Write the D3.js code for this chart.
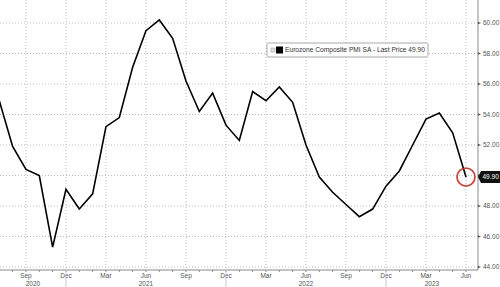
<!DOCTYPE html>
<html>
  <head>
    <meta charset="utf-8" />
    <script src="https://d3js.org/d3.v7.min.js"></script>
    <style>
      body { margin: 0; background: #fff; }
      svg { display: block; font-family: "Liberation Sans", Arial, sans-serif; }
    </style>
  </head>
  <body>
    <div id="chart"></div>
    <script>
      // Eurozone Composite PMI SA, monthly Jul 2020 .. Jun 2023
      var startYear = 2020, startMonth = 6; // July (0-based)
      var values = [
        54.9, 51.9, 50.4, 50.0, 45.3, 49.1,
        47.8, 48.8, 53.2, 53.8, 57.1, 59.5, 60.2, 59.0, 56.2, 54.2, 55.4, 53.3,
        52.3, 55.5, 54.9, 55.8, 54.8, 52.0, 49.9, 48.9, 48.1, 47.3, 47.8, 49.3,
        50.3, 52.0, 53.7, 54.1, 52.8, 49.9
      ];
      var yTicks = [44, 46, 48, 50, 52, 54, 56, 58, 60];
      var monthNames = ["Jan", "Feb", "Mar", "Apr", "May", "Jun", "Jul", "Aug", "Sep", "Oct", "Nov", "Dec"];
      var legendLabel = "Eurozone Composite PMI SA - Last Price 49.90";
      var lastLabel = "49.90";

      var width = 500, height = 287;
      var axisX = 478, axisY = 270;

      var data = values.map(function (v, i) {
        var m = startMonth + i;
        return { i: i, year: startYear + Math.floor(m / 12), month: m % 12, value: v };
      });

      var x = d3.scaleLinear().domain([0, values.length - 1]).range([-0.7, 466]);
      var y = d3.scaleLinear().domain([44, 60]).range([267, 23]);

      var svg = d3.select("#chart").append("svg")
        .attr("width", width)
        .attr("height", height);

      // quarter months: Mar, Jun, Sep, Dec
      var quarters = data.filter(function (d) { return d.month % 3 === 2; });

      // grid
      svg.append("g").selectAll("line").data(yTicks).enter().append("line")
        .attr("x1", 0).attr("x2", axisX)
        .attr("y1", function (d) { return y(d); })
        .attr("y2", function (d) { return y(d); })
        .attr("stroke", "#bdbdbd")
        .attr("stroke-dasharray", "1,2");

      svg.append("g").selectAll("line").data(quarters).enter().append("line")
        .attr("x1", function (d) { return x(d.i); })
        .attr("x2", function (d) { return x(d.i); })
        .attr("y1", 0).attr("y2", axisY)
        .attr("stroke", "#bdbdbd")
        .attr("stroke-dasharray", "1,2");

      // bottom axis
      svg.append("line")
        .attr("x1", 0).attr("x2", axisX)
        .attr("y1", axisY).attr("y2", axisY)
        .attr("stroke", "#8a8a8a");

      svg.append("g").selectAll("line").data(data).enter().append("line")
        .attr("x1", function (d) { return x(d.i); })
        .attr("x2", function (d) { return x(d.i); })
        .attr("y1", axisY).attr("y2", axisY + 2)
        .attr("stroke", "#8a8a8a");

      svg.append("g").selectAll("text").data(quarters).enter().append("text")
        .attr("x", function (d) { return x(d.i); })
        .attr("y", axisY + 8)
        .attr("text-anchor", "middle")
        .attr("font-size", 6.5)
        .attr("fill", "#555")
        .text(function (d) { return monthNames[d.month]; });

      // year separators at December
      var decs = data.filter(function (d) { return d.month === 11; });
      svg.append("g").selectAll("line").data(decs).enter().append("line")
        .attr("x1", function (d) { return x(d.i); })
        .attr("x2", function (d) { return x(d.i); })
        .attr("y1", axisY).attr("y2", height)
        .attr("stroke", "#c8c8c8");

      var seps = [0].concat(decs.map(function (d) { return x(d.i); })).concat([axisX]);
      var years = d3.range(startYear, startYear + seps.length - 1);
      svg.append("g").selectAll("text").data(years).enter().append("text")
        .attr("x", function (d, k) { return (seps[k] + seps[k + 1]) / 2; })
        .attr("y", axisY + 16)
        .attr("text-anchor", "middle")
        .attr("font-size", 6.5)
        .attr("fill", "#555")
        .text(function (d) { return d; });

      // right axis
      svg.append("line")
        .attr("x1", axisX).attr("x2", axisX)
        .attr("y1", 0).attr("y2", axisY)
        .attr("stroke", "#8a8a8a");

      var ry = svg.append("g").selectAll("g").data(yTicks).enter().append("g")
        .attr("transform", function (d) { return "translate(" + axisX + "," + y(d) + ")"; });
      ry.append("path")
        .attr("d", "M0,-1.2L3,0L0,1.2Z")
        .attr("fill", "#555");
      ry.append("text")
        .attr("x", 5)
        .attr("dy", "0.35em")
        .attr("font-size", 6.5)
        .attr("fill", "#555")
        .text(function (d) { return d.toFixed(2); });

      // series line
      var line = d3.line()
        .x(function (d) { return x(d.i); })
        .y(function (d) { return y(d.value); });

      svg.append("path")
        .datum(data)
        .attr("fill", "none")
        .attr("stroke", "#000")
        .attr("stroke-width", 1.6)
        .attr("stroke-linejoin", "miter")
        .attr("d", line);

      // highlight last point
      var last = data[data.length - 1];
      svg.append("circle")
        .attr("cx", x(last.i))
        .attr("cy", y(last.value))
        .attr("r", 9)
        .attr("fill", "none")
        .attr("stroke", "#c0392b")
        .attr("stroke-width", 1.8)
        .attr("opacity", 0.9);

      // last price tag
      var ly = y(last.value);
      svg.append("path")
        .attr("d", "M" + axisX + "," + ly + "L" + (axisX + 3) + "," + (ly - 6) +
          "L" + width + "," + (ly - 6) + "L" + width + "," + (ly + 6) +
          "L" + (axisX + 3) + "," + (ly + 6) + "Z")
        .attr("fill", "#111");
      svg.append("text")
        .attr("x", axisX + 4.5)
        .attr("y", ly)
        .attr("dy", "0.35em")
        .attr("font-size", 6.5)
        .attr("fill", "#fff")
        .text(lastLabel);

      // legend
      var lg = svg.append("g").attr("transform", "translate(267,43)");
      lg.append("rect")
        .attr("width", 161).attr("height", 14)
        .attr("fill", "#fff")
        .attr("stroke", "#aaa")
        .attr("rx", 1.5);
      lg.append("rect")
        .attr("x", 4).attr("y", 5).attr("width", 4).attr("height", 4)
        .attr("fill", "#ddd").attr("stroke", "#999").attr("stroke-width", 0.5);
      lg.append("rect")
        .attr("x", 9).attr("y", 3.5).attr("width", 7).attr("height", 7)
        .attr("fill", "#000");
      lg.append("text")
        .attr("x", 18)
        .attr("y", 7)
        .attr("dy", "0.35em")
        .attr("font-size", 6.8)
        .attr("fill", "#333")
        .attr("textLength", 140)
        .attr("lengthAdjust", "spacingAndGlyphs")
        .text(legendLabel);
    </script>
  </body>
</html>
